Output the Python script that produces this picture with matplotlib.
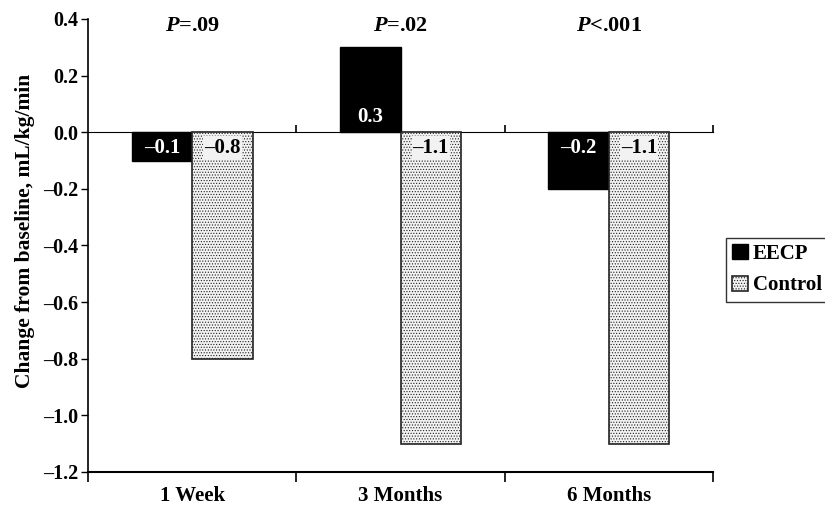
import matplotlib
matplotlib.use('Agg')
import matplotlib.pyplot as plt
import numpy as np

plt.rcParams['font.family'] = ['Liberation Serif', 'DejaVu Serif']
plt.rcParams['font.weight'] = 'bold'
plt.rcParams['mathtext.fontset'] = 'custom'
plt.rcParams['mathtext.it'] = 'Liberation Serif:italic:bold'
plt.rcParams['mathtext.rm'] = 'Liberation Serif:bold'
plt.rcParams['hatch.linewidth'] = 0.5

categories = ['1 Week', '3 Months', '6 Months']
eecp = [-0.1, 0.3, -0.2]
control = [-0.8, -1.1, -1.1]
eecp_labels = ['\u20130.1', '0.3', '\u20130.2']
control_labels = ['\u20130.8', '\u20131.1', '\u20131.1']
p_labels = ['=.09', '=.02', '<.001']
yticks = [0.4, 0.2, 0.0, -0.2, -0.4, -0.6, -0.8, -1.0, -1.2]


def main():
  fig = plt.figure(figsize=(8.25, 5.08), dpi=100)
  ax = fig.add_axes([0.1067, 0.0709, 0.7576, 0.8917])

  x = np.arange(len(categories)) + 0.5
  w = 0.29
  b1 = ax.bar(x - w / 2, eecp, w, color='black', edgecolor='black', linewidth=1, label='EECP')
  b2 = ax.bar(x + w / 2, control, w, color='#f2f2f2', edgecolor='#222222',
              hatch='......', linewidth=1.2, label='Control')

  for xi, v, s in zip(x - w / 2, eecp, eecp_labels):
    off = 11 if v > 0 else -11
    ax.annotate(s, (xi, 0), xytext=(0, off), textcoords='offset points',
                ha='center', va='center', color='white', fontsize=15, fontweight='bold')
  for xi, v, s in zip(x + w / 2, control, control_labels):
    ax.annotate(s, (xi, 0), xytext=(0, -11), textcoords='offset points',
                ha='center', va='center', color='black', fontsize=15, fontweight='bold',
                bbox=dict(boxstyle='square,pad=0.05', fc='#f2f2f2', ec='none'))
  for xi, s in zip(x, p_labels):
    ax.annotate(r'$\mathit{P}$' + s, (xi, 0.4), xytext=(0, -5), textcoords='offset points',
                ha='center', va='center', fontsize=16)

  ax.set_xlim(0, 3)
  ax.set_ylim(-1.2, 0.4)
  ax.set_yticks(yticks)
  ax.set_yticklabels(['%.1f' % t if t >= 0 else '\u2013%.1f' % abs(t) for t in yticks], fontsize=14.5)
  ax.set_xticks([0, 1, 2, 3])
  ax.set_xticklabels([])
  ax.set_xticks(x, minor=True)
  ax.set_xticklabels(categories, minor=True, fontsize=15)
  ax.tick_params(axis='x', which='minor', length=0, pad=10)
  ax.tick_params(axis='x', which='major', length=7, width=1.2, direction='out')
  ax.tick_params(axis='y', length=5, width=1, direction='out', pad=2)
  for s in ['top', 'right']:
    ax.spines[s].set_visible(False)
  ax.spines['left'].set_linewidth(1.2)
  ax.spines['bottom'].set_linewidth(1.5)

  # zero line with its own small ticks
  sec = ax.secondary_xaxis(0.75)
  sec.set_xticks([1, 2, 3])
  sec.set_xticklabels([])
  sec.tick_params(length=5, width=1.2, direction='out')
  sec.spines['bottom'].set_linewidth(1.2)

  ax.set_ylabel('Change from baseline, mL/kg/min', fontsize=15.5, fontweight='bold')
  ax.yaxis.set_label_coords(-0.085, 0.533)

  fig.legend(handles=[b1, b2], loc='center left', bbox_to_anchor=(0.88, 0.469),
             fontsize=15, frameon=True, fancybox=False, edgecolor='black',
             handlelength=0.75, handleheight=0.75, handletextpad=0.25,
             borderpad=0.3, labelspacing=0.55, borderaxespad=0)

  fig.savefig('out.png', dpi=100)


if __name__ == "__main__":
  main()
